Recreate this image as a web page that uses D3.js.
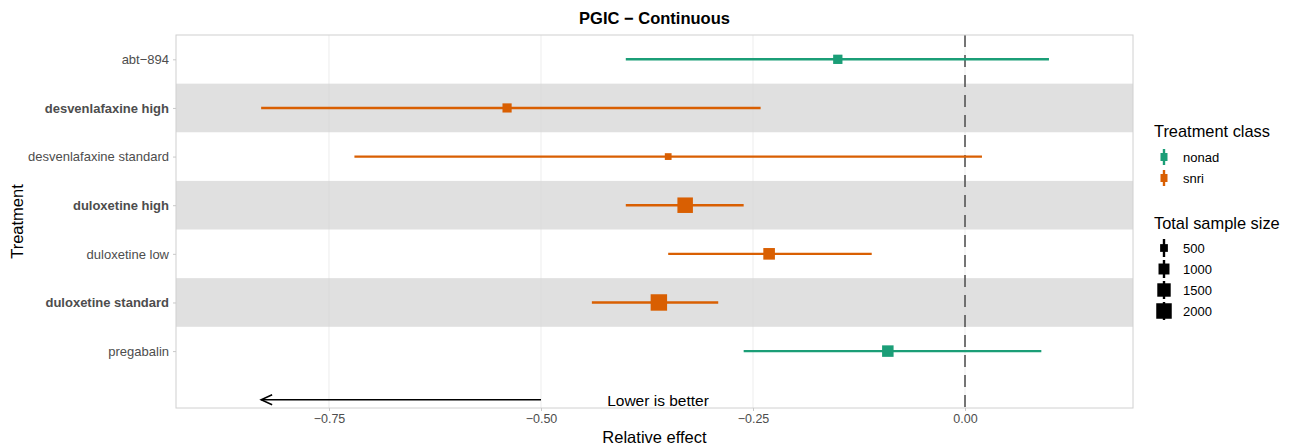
<!doctype html>
<html>
  <head>
    <meta charset="utf-8">
    <script src="https://cdn.jsdelivr.net/npm/d3@7/dist/d3.min.js"></script>
    <style>
      body, html { margin: 0; background: #fff; }
      svg { font-family: "Liberation Sans", Arial, sans-serif; }
      .tick text { fill: #4d4d4d; font-size: 13px; }
    </style>
  </head>
  <body>
    <svg width="1289" height="448"></svg>
    <script>
      var treatments = ["abt\u2212894", "desvenlafaxine high", "desvenlafaxine standard",
        "duloxetine high", "duloxetine low", "duloxetine standard", "pregabalin"];
      var classes = ["nonad", "snri", "snri", "snri", "snri", "snri", "nonad"];
      var estimate = [-0.150, -0.540, -0.350, -0.330, -0.231, -0.361, -0.091];
      var lower = [-0.400, -0.830, -0.720, -0.400, -0.350, -0.440, -0.261];
      var upper = [0.099, -0.241, 0.020, -0.261, -0.110, -0.291, 0.090];
      var sampleSize = [720, 700, 380, 2000, 1120, 2250, 1100];
      var boldRows = [false, true, false, true, false, true, false];
      var xTicks = [-0.75, -0.5, -0.25, 0];
      var sizeBreaks = [500, 1000, 1500, 2000];
      var classNames = ["nonad", "snri"];
      var classColors = ["#1b9e77", "#d95f02"];

      var svg = d3.select("svg");
      var pLeft = 176, pRight = 1133, pTop = 35, pBottom = 408;

      var x = d3.scaleLinear().domain([-0.9304, 0.1981]).range([pLeft, pRight]);
      var y = d3.scaleLinear().domain([0.5, 8.17]).range([pTop, pBottom]);
      var color = d3.scaleOrdinal().domain(classNames).range(classColors);
      var size = d3.scaleSqrt().domain([0, 2000]).range([0, 15.5]);

      var rows = treatments.map(function (t, i) {
        return {name: t, pos: i + 1, cls: classes[i], est: estimate[i],
          lo: lower[i], hi: upper[i], n: sampleSize[i], bold: boldRows[i]};
      });

      // striped bands
      svg.selectAll("rect.band")
        .data(rows.filter(function (d) { return d.bold; }))
        .enter().append("rect")
          .attr("x", pLeft).attr("width", pRight - pLeft)
          .attr("y", function (d) { return y(d.pos - 0.5); })
          .attr("height", function (d) { return y(d.pos + 0.5) - y(d.pos - 0.5); })
          .attr("fill", "#e0e0e0");

      // vertical grid
      svg.selectAll("line.grid")
        .data(xTicks)
        .enter().append("line")
          .attr("x1", function (d) { return x(d); }).attr("x2", function (d) { return x(d); })
          .attr("y1", pTop).attr("y2", pBottom)
          .attr("stroke", "#d6d6d6").attr("stroke-opacity", 0.45).attr("stroke-width", 1);

      // zero line
      svg.append("line")
        .attr("x1", x(0)).attr("x2", x(0)).attr("y1", pTop).attr("y2", pBottom)
        .attr("stroke", "#555").attr("stroke-width", 1.6).attr("stroke-dasharray", "12,8");

      // error bars
      svg.selectAll("line.ci")
        .data(rows)
        .enter().append("line")
          .attr("x1", function (d) { return x(d.lo); })
          .attr("x2", function (d) { return x(d.hi); })
          .attr("y1", function (d) { return y(d.pos); })
          .attr("y2", function (d) { return y(d.pos); })
          .attr("stroke", function (d) { return color(d.cls); })
          .attr("stroke-width", 2.4);

      svg.selectAll("rect.pt")
        .data(rows)
        .enter().append("rect")
          .attr("x", function (d) { return x(d.est) - size(d.n) / 2; })
          .attr("y", function (d) { return y(d.pos) - size(d.n) / 2; })
          .attr("width", function (d) { return size(d.n); })
          .attr("height", function (d) { return size(d.n); })
          .attr("fill", function (d) { return color(d.cls); });

      // annotation arrow
      var ay = y(8);
      svg.append("line")
        .attr("x1", x(-0.5)).attr("x2", x(-0.83)).attr("y1", ay).attr("y2", ay)
        .attr("stroke", "#000").attr("stroke-width", 1.5);
      svg.append("path")
        .attr("d", "M" + (x(-0.83) + 11) + "," + (ay - 5) + "L" + x(-0.83) + "," + ay +
          "L" + (x(-0.83) + 11) + "," + (ay + 5))
        .attr("fill", "none").attr("stroke", "#000").attr("stroke-width", 1.5);
      svg.append("text")
        .attr("x", x(-0.362)).attr("y", ay + 6)
        .attr("text-anchor", "middle").attr("font-size", "15.5px").attr("fill", "#000")
        .text("Lower is better");

      // panel border
      svg.append("rect")
        .attr("x", pLeft).attr("y", pTop).attr("width", pRight - pLeft).attr("height", pBottom - pTop)
        .attr("fill", "none").attr("stroke", "#d0d0d0").attr("stroke-width", 1);

      // x axis
      var xAxis = svg.append("g")
        .attr("transform", "translate(0," + pBottom + ")")
        .call(d3.axisBottom(x).tickValues(xTicks).tickSize(3).tickPadding(3)
          .tickFormat(function (d) { return d3.format(".2f")(d).replace("-", "\u2212"); }));
      xAxis.select(".domain").remove();
      xAxis.selectAll(".tick line").attr("stroke", "#c8c8c8");
      xAxis.selectAll(".tick text").style("font-size", "12.5px");

      // y axis
      var yAxis = svg.append("g")
        .attr("transform", "translate(" + pLeft + ",0)")
        .call(d3.axisLeft(y).tickValues(rows.map(function (d) { return d.pos; }))
          .tickSize(3).tickPadding(4)
          .tickFormat(function (d) { return treatments[d - 1]; }));
      yAxis.select(".domain").remove();
      yAxis.selectAll(".tick line").attr("stroke", "#c8c8c8");
      yAxis.selectAll(".tick text")
        .attr("font-weight", function (d) { return boldRows[d - 1] ? "bold" : "normal"; });

      // titles
      svg.append("text")
        .attr("x", (pLeft + pRight) / 2).attr("y", 24)
        .attr("text-anchor", "middle").attr("font-size", "16.5px").attr("font-weight", "bold")
        .text("PGIC \u2212 Continuous");
      svg.append("text")
        .attr("x", (pLeft + pRight) / 2).attr("y", 443)
        .attr("text-anchor", "middle").attr("font-size", "16.5px")
        .text("Relative effect");
      svg.append("text")
        .attr("transform", "translate(23," + ((pTop + pBottom) / 2) + ") rotate(-90)")
        .attr("text-anchor", "middle").attr("font-size", "16.5px")
        .text("Treatment");

      // legends
      var lg = svg.append("g").attr("transform", "translate(1154,0)");
      lg.append("text").attr("x", 0).attr("y", 137).attr("font-size", "16.4px")
        .text("Treatment class");
      classNames.forEach(function (c, i) {
        var cy = 157 + i * 21;
        lg.append("line").attr("x1", 10).attr("x2", 10).attr("y1", cy - 8).attr("y2", cy + 8)
          .attr("stroke", color(c)).attr("stroke-width", 2.4);
        lg.append("rect").attr("x", 6.5).attr("y", cy - 4).attr("width", 7).attr("height", 8)
          .attr("fill", color(c));
        lg.append("text").attr("x", 29).attr("y", cy + 4.5).attr("font-size", "13px").text(c);
      });
      lg.append("text").attr("x", 0).attr("y", 229).attr("font-size", "16.4px")
        .text("Total sample size");
      sizeBreaks.forEach(function (n, i) {
        var cy = 248 + i * 21;
        var s = size(n);
        lg.append("line").attr("x1", 10).attr("x2", 10).attr("y1", cy - 9).attr("y2", cy + 9)
          .attr("stroke", "#000").attr("stroke-width", 2.4);
        lg.append("rect").attr("x", 10 - s / 2).attr("y", cy - s / 2).attr("width", s).attr("height", s)
          .attr("fill", "#000");
        lg.append("text").attr("x", 29).attr("y", cy + 4.5).attr("font-size", "13px").text(n);
      });
    </script>
  </body>
</html>
